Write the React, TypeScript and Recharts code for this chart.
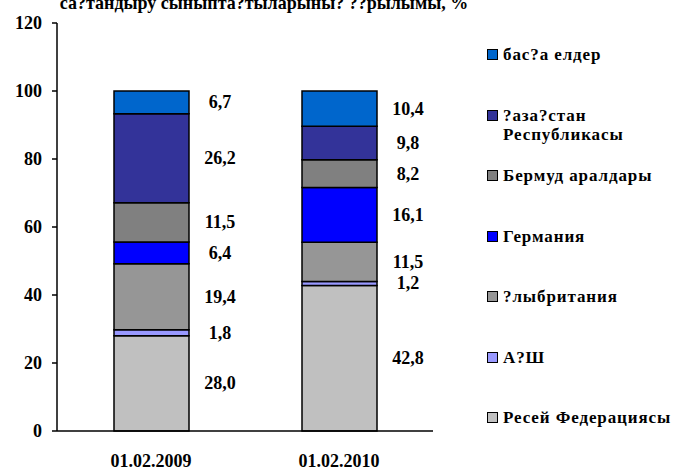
import React from 'react';
import { BarChart, Bar, XAxis, YAxis, LabelList, Legend } from 'recharts';

// ---- data ----
const categories = ['01.02.2009', '01.02.2010'];
const seriesNames = [
  'Ресей Федерациясы',
  'А?Ш',
  '?лыбритания',
  'Германия',
  'Бермуд аралдары',
  '?аза?стан Республикасы',
  'бас?а елдер',
];
const russia = [28.0, 42.8];
const usa = [1.8, 1.2];
const uk = [19.4, 11.5];
const germany = [6.4, 16.1];
const bermuda = [11.5, 8.2];
const kazakhstan = [26.2, 9.8];
const other = [6.7, 10.4];
const yTicks = [0, 20, 40, 60, 80, 100, 120];
const edgeTicks = [0, 1, 2];
const titleText = 'са?тандыру сыныпта?тыларыны? ??рылымы, %';

// ---- styles ----
const seriesKeys = ['russia', 'usa', 'uk', 'germany', 'bermuda', 'kazakhstan', 'other'];
const seriesColors = ['#C0C0C0', '#9999FF', '#969696', '#0000FF', '#808080', '#333399', '#0066CC'];
const FONT = '"Liberation Serif", "DejaVu Serif", serif';

const seriesValues = [russia, usa, uk, germany, bermuda, kazakhstan, other];
const data = categories.map((c, i) => {
  const row: any = { name: c, pos: i + 0.5 };
  seriesKeys.forEach((k, s) => {
    row[k] = seriesValues[s][i];
  });
  return row;
});

const fmt = (v: any) => Number(v).toFixed(1).replace('.', ',');

const renderLabel = (props: any) => {
  const { x, y, width, height, value } = props;
  return (
    <text
      x={Number(x) + Number(width) + 31}
      y={Number(y) + Number(height) / 2}
      textAnchor="middle"
      dominantBaseline="central"
      fontFamily={FONT}
      fontWeight="bold"
      fontSize={18}
      fill="#000"
    >
      {fmt(value)}
    </text>
  );
};

const LegendContent = () => {
  const order = seriesNames.map((n, i) => i).reverse();
  return (
    <div style={{ fontFamily: FONT, fontWeight: 'bold', fontSize: 17, letterSpacing: 0.9, color: '#000' }}>
      {order.map((i) => (
        <div key={i} style={{ height: 60.5, display: 'flex', alignItems: 'flex-start' }}>
          <div style={{ height: 19, display: 'flex', alignItems: 'center' }}>
            <div
              style={{
                width: 9,
                height: 9,
                background: seriesColors[i],
                border: '1px solid #000',
                marginRight: 5,
                flexShrink: 0,
              }}
            />
          </div>
          <div style={{ lineHeight: '19px', width: 174, whiteSpace: 'normal' }}>{seriesNames[i]}</div>
        </div>
      ))}
    </div>
  );
};

export default function App() {
  return (
    <div style={{ position: 'absolute', left: 0, top: 0, width: 678, height: 470, background: '#fff', overflow: 'hidden' }}>
      <svg style={{ position: 'absolute', left: 0, top: 0 }} width={678} height={20}>
        <text x={264} y={9} textAnchor="middle" fontFamily={FONT} fontWeight="bold" fontSize={18} fill="#000">
          {titleText}
        </text>
      </svg>
      <BarChart
        width={678}
        height={470}
        data={data}
        margin={{ top: 23, right: 245, bottom: 0, left: 0 }}
        barSize={75}
      >
        <XAxis
          xAxisId="edges"
          type="number"
          dataKey="pos"
          domain={[0, 2]}
          ticks={edgeTicks}
          tick={false}
          axisLine={false}
          tickLine={{ stroke: '#000', strokeWidth: 1.5 }}
          tickSize={6}
          height={0}
        />
        <XAxis
          dataKey="name"
          axisLine={{ stroke: '#000', strokeWidth: 1.5 }}
          tickLine={false}
          tickSize={0}
          tickMargin={23}
          height={39}
          interval={0}
          tick={{ fill: '#000', fontFamily: FONT, fontWeight: 'bold', fontSize: 18 }}
        />
        <YAxis
          domain={[0, 120]}
          ticks={yTicks}
          interval={0}
          width={57}
          axisLine={{ stroke: '#000', strokeWidth: 1.5 }}
          tickLine={{ stroke: '#000', strokeWidth: 1.5 }}
          tickSize={5}
          tickMargin={10}
          tick={{ fill: '#000', fontFamily: FONT, fontWeight: 'bold', fontSize: 18 }}
        />
        <Legend
          layout="vertical"
          align="center"
          verticalAlign="middle"
          content={<LegendContent />}
          wrapperStyle={{ left: 487, top: 45, width: 191, height: 425 }}
        />
        {seriesKeys.map((k, i) => (
          <Bar
            key={k}
            dataKey={k}
            name={seriesNames[i]}
            stackId="a"
            fill={seriesColors[i]}
            stroke="#000"
            strokeWidth={1.5}
            isAnimationActive={false}
          >
            <LabelList dataKey={k} content={renderLabel} />
          </Bar>
        ))}
      </BarChart>
    </div>
  );
}
